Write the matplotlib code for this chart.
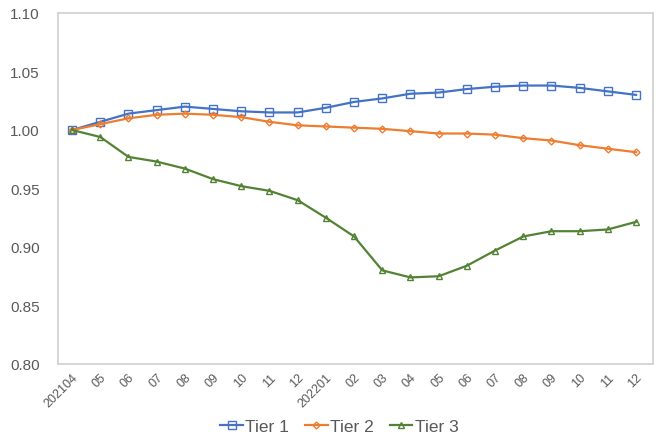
import matplotlib
matplotlib.use("Agg")
import matplotlib.pyplot as plt
import numpy as np

plt.rcParams['font.family'] = ['Liberation Sans', 'DejaVu Sans']

labels = ["202104", "05", "06", "07", "08", "09", "10", "11", "12", "202201",
          "02", "03", "04", "05", "06", "07", "08", "09", "10", "11", "12"]
tier1 = [1.000, 1.007, 1.014, 1.017, 1.020, 1.018, 1.016, 1.015, 1.015, 1.019,
         1.024, 1.027, 1.031, 1.032, 1.035, 1.037, 1.038, 1.038, 1.036, 1.033, 1.030]
tier2 = [1.000, 1.005, 1.010, 1.013, 1.014, 1.013, 1.011, 1.007, 1.004, 1.003,
         1.002, 1.001, 0.999, 0.997, 0.997, 0.996, 0.993, 0.991, 0.987, 0.984, 0.981]
tier3 = [1.000, 0.994, 0.977, 0.973, 0.967, 0.958, 0.952, 0.948, 0.940, 0.925,
         0.909, 0.880, 0.874, 0.875, 0.884, 0.897, 0.909, 0.9135, 0.9135, 0.915, 0.9215]
series_names = ["Tier 1", "Tier 2", "Tier 3"]

fig = plt.figure(figsize=(6.59, 4.39), dpi=100)
ax = fig.add_axes([58/659, 1 - 365/439, (653-58)/659, (365-14)/439])

x = np.arange(len(labels))
ax.plot(x, tier1, color="#4472C4", lw=1.6, marker="s", ms=5.5, mfc="none", mec="#4472C4", mew=1.0, label=series_names[0])
ax.plot(x, tier2, color="#ED7D31", lw=1.6, marker="D", ms=3.5, mfc="none", mec="#ED7D31", mew=1.0, label=series_names[1])
ax.plot(x, tier3, color="#548235", lw=1.6, marker="^", ms=5, mfc="none", mec="#548235", mew=1.0, label=series_names[2])

ax.set_xlim(-0.5, 20.6)
ax.set_ylim(0.80, 1.10)
ax.set_yticks(np.arange(0.80, 1.101, 0.05))
ax.set_yticklabels([f"{v:.2f}" for v in np.arange(0.80, 1.101, 0.05)])
ax.set_xticks(x)
ax.set_xticklabels(labels, rotation=45, ha="right", rotation_mode="anchor")

for s in ax.spines.values():
    s.set_color("#D0D0D0")
    s.set_linewidth(1.2)
ax.tick_params(axis="y", length=0, labelsize=11, labelcolor="#595959", pad=13)
ax.tick_params(axis="x", length=0, labelsize=9, labelcolor="#595959", pad=5)

leg = fig.legend(loc="center", bbox_to_anchor=(0.515, 1 - 427/439), ncol=3, frameon=False,
                 fontsize=12.5, handlelength=1.3, handletextpad=0.15, columnspacing=0.9)
for t in leg.get_texts():
    t.set_color("#595959")

fig.savefig("out.png", dpi=100)
